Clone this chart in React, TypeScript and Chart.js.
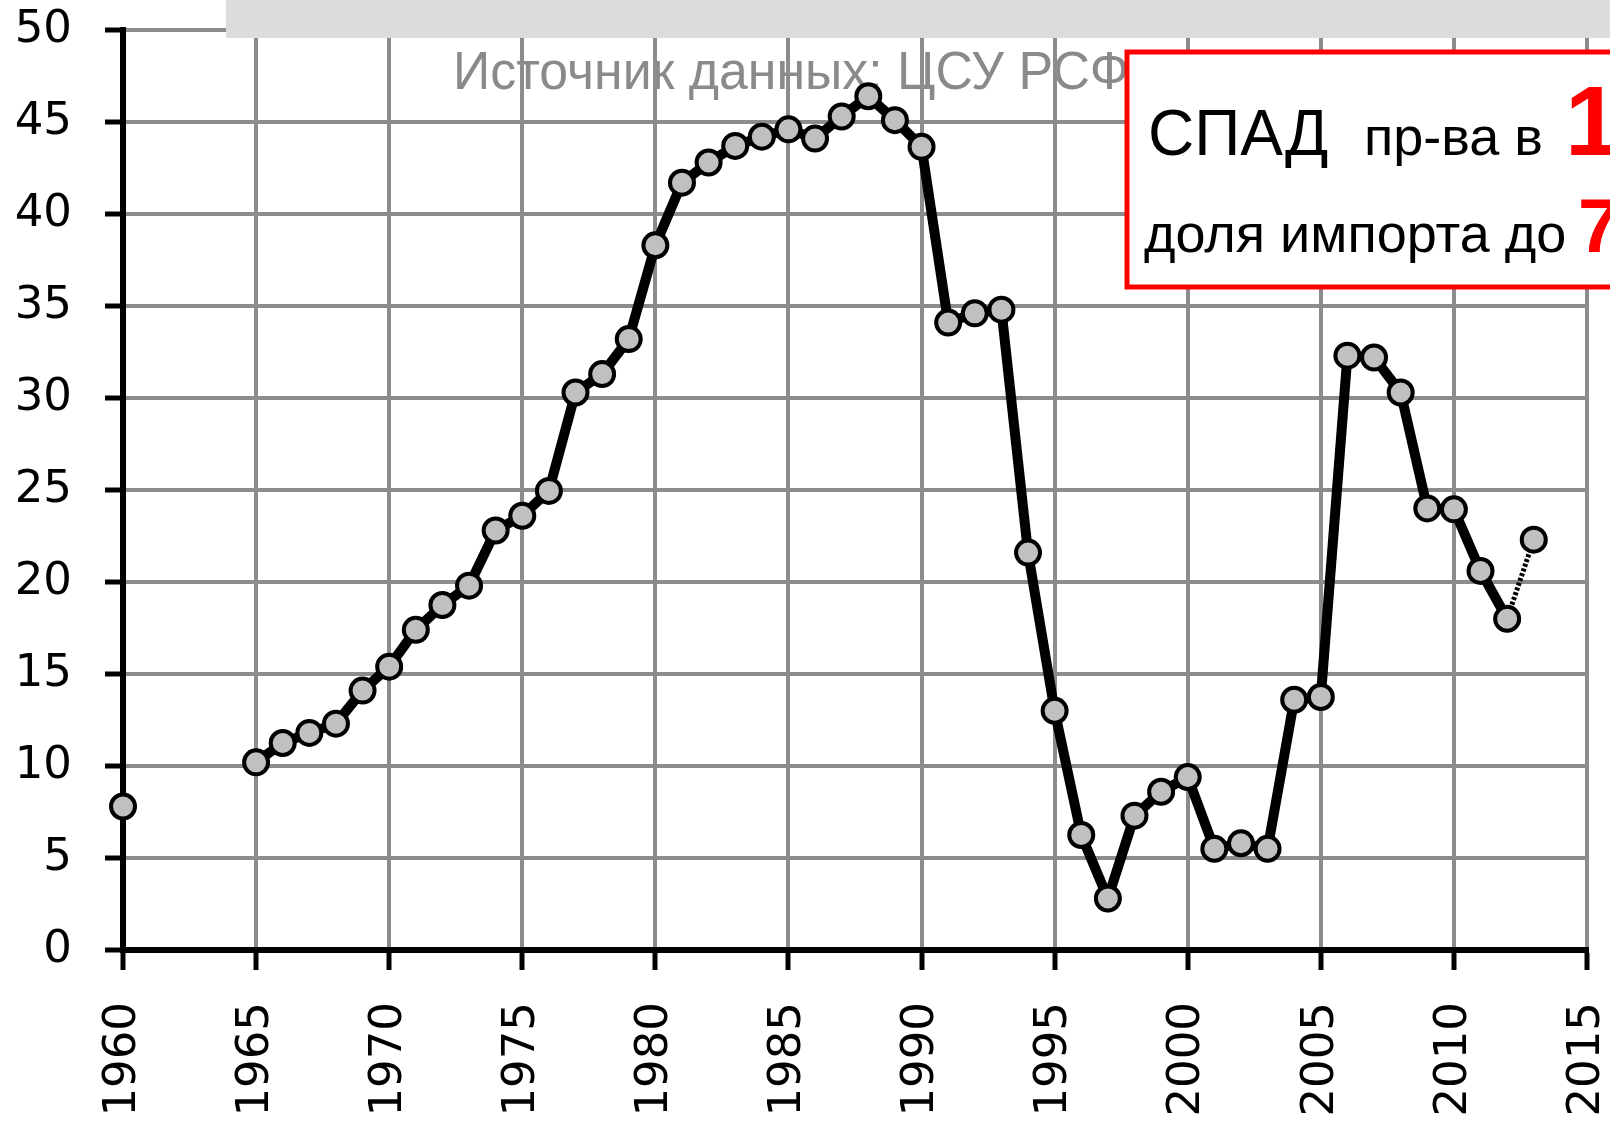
import React, { useEffect, useRef } from "react";
import { Chart, registerables } from "chart.js";

Chart.register(...registerables);

// ---- data ----
const YEARS = [
  1960, 1961, 1962, 1963, 1964, 1965, 1966, 1967, 1968, 1969,
  1970, 1971, 1972, 1973, 1974, 1975, 1976, 1977, 1978, 1979,
  1980, 1981, 1982, 1983, 1984, 1985, 1986, 1987, 1988, 1989,
  1990, 1991, 1992, 1993, 1994, 1995, 1996, 1997, 1998, 1999,
  2000, 2001, 2002, 2003, 2004, 2005, 2006, 2007, 2008, 2009,
  2010, 2011, 2012, 2013,
];
const VALUES: (number | null)[] = [
  7.8, null, null, null, null, 10.2, 11.25, 11.8, 12.3, 14.1,
  15.4, 17.4, 18.75, 19.8, 22.8, 23.6, 24.95, 30.3, 31.3, 33.2,
  38.3, 41.7, 42.8, 43.7, 44.2, 44.6, 44.1, 45.3, 46.4, 45.1,
  43.65, 34.1, 34.6, 34.8, 21.6, 13.0, 6.25, 2.8, 7.3, 8.6,
  9.4, 5.5, 5.8, 5.5, 13.6, 13.75, 32.3, 32.2, 30.3, 24.0,
  23.95, 20.6, 18.0, 22.3,
];
const X_MIN = 1960;
const X_MAX = 2015;
const X_STEP = 5;
const Y_MIN = 0;
const Y_MAX = 50;
const Y_STEP = 5;

const SOURCE_TEXT = "Источник данных: ЦСУ РСФСР";
const BOX_LINE1_A = "СПАД";
const BOX_LINE1_B = "пр-ва в";
const BOX_LINE1_C = "1";
const BOX_LINE2_A = "доля импорта до";
const BOX_LINE2_B = "7";

const overlayPlugin = {
  id: "overlay",
  beforeDraw(chart: any) {
    const ctx = chart.ctx;
    ctx.save();
    ctx.fillStyle = "#ffffff";
    ctx.fillRect(0, 0, chart.width, chart.height);
    ctx.fillStyle = "#8a8a8a";
    ctx.font = "54px 'Liberation Sans'";
    ctx.textBaseline = "alphabetic";
    ctx.textAlign = "left";
    ctx.translate(453, 89);
    ctx.scale(0.96, 1);
    ctx.fillText(SOURCE_TEXT, 0, 0);
    ctx.restore();
  },
  beforeDatasetsDraw(chart: any) {
    const ctx = chart.ctx;
    ctx.save();
    ctx.fillStyle = "#dcdcdc";
    ctx.fillRect(226, 0, chart.width - 226, 38);
    ctx.restore();
  },
  afterDraw(chart: any) {
    const ctx = chart.ctx;
    ctx.save();
    const bx = 1127, by = 52, bw = chart.width - 1127 + 20, bh = 235;
    ctx.fillStyle = "#ffffff";
    ctx.fillRect(bx, by, bw, bh);
    ctx.strokeStyle = "#ff0000";
    ctx.lineWidth = 5;
    ctx.strokeRect(bx, by, bw, bh);
    ctx.textBaseline = "alphabetic";
    ctx.textAlign = "left";
    ctx.fillStyle = "#000000";
    ctx.font = "64px 'Liberation Sans'";
    ctx.fillText(BOX_LINE1_A, 1148, 155);
    ctx.font = "54px 'Liberation Sans'";
    ctx.fillText(BOX_LINE1_B, 1364, 155);
    ctx.fillText(BOX_LINE2_A, 1144, 252);
    ctx.fillStyle = "#ff0000";
    ctx.font = "bold 99px 'Liberation Sans'";
    ctx.fillText(BOX_LINE1_C, 1565, 155);
    ctx.font = "bold 76px 'Liberation Sans'";
    ctx.fillText(BOX_LINE2_B, 1578, 252);
    ctx.restore();
  },
};

const zeroPadding = (s: any) => {
  s.paddingTop = 0;
  s.paddingBottom = 0;
  s.paddingLeft = 0;
  s.paddingRight = 0;
};

export default function App() {
  const ref = useRef<HTMLCanvasElement>(null);
  useEffect(() => {
    const points = YEARS.map((x, i) => ({ x, y: VALUES[i] }));
    const lastIdx = VALUES.length - 1;
    const chart = new Chart(ref.current as HTMLCanvasElement, {
      type: "line",
      data: {
        datasets: [
          {
            data: points as any,
            borderColor: "#000000",
            borderWidth: 10,
            tension: 0,
            spanGaps: false,
            clip: false as any,
            pointRadius: 12,
            pointHoverRadius: 12,
            pointBackgroundColor: "#c0c0c0",
            pointBorderColor: "#000000",
            pointBorderWidth: 4,
            segment: {
              borderWidth: (c: any) => (c.p1DataIndex === lastIdx ? 5 : 10),
              borderDash: (c: any) => (c.p1DataIndex === lastIdx ? [3, 2] : undefined),
            },
          } as any,
        ],
      },
      options: {
        animation: false,
        responsive: false,
        devicePixelRatio: 1,
        events: [],
        layout: { padding: { top: 30, right: 23, left: 0, bottom: 0 } },
        plugins: {
          legend: { display: false },
          tooltip: { enabled: false },
          title: { display: false },
        },
        scales: {
          x: {
            type: "linear",
            min: X_MIN,
            max: X_MAX,
            afterFit: (s: any) => {
              s.height = 172;
              zeroPadding(s);
            },
            ticks: {
              stepSize: X_STEP,
              autoSkip: false,
              minRotation: 90,
              maxRotation: 90,
              padding: 32,
              color: "#000000",
              font: { family: "DejaVu Sans", size: 45 },
              callback: (v: any) => String(v),
            },
            grid: {
              color: "#8c8c8c",
              lineWidth: 4,
              tickColor: "#000000",
              tickWidth: 5,
              tickLength: 20,
            },
            border: { color: "#000000", width: 6 },
          },
          y: {
            type: "linear",
            min: Y_MIN,
            max: Y_MAX,
            afterFit: (s: any) => {
              s.width = 123;
              zeroPadding(s);
            },
            ticks: {
              stepSize: Y_STEP,
              padding: 33,
              color: "#000000",
              font: { family: "DejaVu Sans", size: 45 },
              callback: (v: any) => String(v),
            },
            grid: {
              color: "#8c8c8c",
              lineWidth: 4,
              tickColor: "#000000",
              tickWidth: 5,
              tickLength: 18,
            },
            border: { color: "#000000", width: 6 },
          },
        },
      },
      plugins: [overlayPlugin],
    });
    return () => chart.destroy();
  }, []);
  return (
    <div style={{ position: "fixed", left: 0, top: 0, width: 1610, height: 1122, background: "#fff", overflow: "hidden" }}>
      <canvas ref={ref} width={1610} height={1122} style={{ display: "block", width: 1610, height: 1122 }} />
    </div>
  );
}
